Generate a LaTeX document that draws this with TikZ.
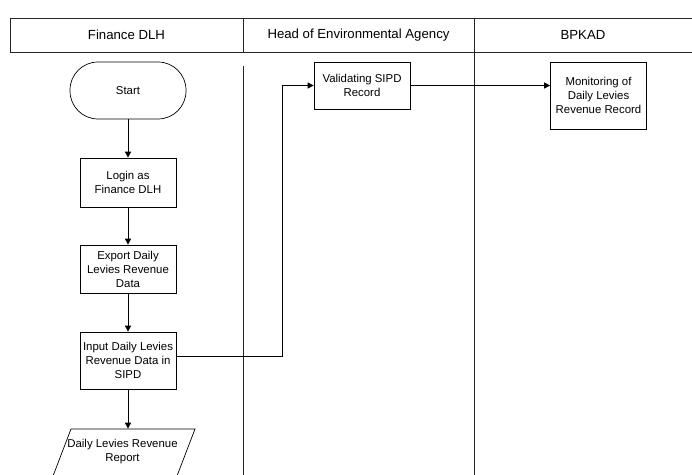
\documentclass[tikz,border=0pt]{standalone}
\usepackage{fontspec}
\setmainfont{Liberation Sans}
\usetikzlibrary{arrows.meta}
\begin{document}
\begin{tikzpicture}[x=1pt,y=-1pt,
  line width=0.7pt,
  box/.style={draw, align=center, font=\fontsize{11.4}{14}\selectfont, inner sep=1pt},
  lanehead/.style={font=\fontsize{13.2}{15}\selectfont},
  flow/.style={draw, -{Triangle[length=6pt,width=6pt]}},
  lane/.style={draw, line width=0.7pt, black!85}]
\useasboundingbox (0,0) rectangle (692,474);
\fill[white] (0,0) rectangle (692,474);
% header
\draw[lane] (10,18) rectangle (694,52);
\draw[lane] (243,18) -- (243,52);
\draw[lane] (474,18) -- (474,52);
\node[lanehead] (h1) at (126.5,35) {Finance DLH};
\node[lanehead] (h2) at (358.5,35) {Head of Environmental Agency};
\node[lanehead] (h3) at (583,35) {BPKAD};
% lane lines
\draw[lane] (243,66) -- (243,476);
\draw[lane] (474,52) -- (474,476);
% nodes
\node[box, minimum width=116pt, minimum height=57pt, rounded corners=28pt] (start) at (128,90.5) {Start};
\node[box, minimum width=96pt, minimum height=49pt] (login) at (128,182.5) {Login as\\Finance DLH};
\node[box, minimum width=96pt, minimum height=48pt] (export) at (128,269) {Export Daily\\Levies Revenue\\Data};
\node[box, minimum width=96pt, minimum height=57pt] (input) at (128,360.5) {Input Daily Levies\\Revenue Data in\\SIPD};
\node[box, minimum width=96pt, minimum height=47pt] (valid) at (362,85.5) {Validating SIPD\\Record};
\node[box, minimum width=96pt, minimum height=67pt] (monit) at (598.5,95.5) {Monitoring of\\Daily Levies\\Revenue Record};
% report (parallelogram)
\node[align=center, font=\fontsize{11.4}{14}\selectfont, inner sep=0pt, minimum width=110pt, minimum height=46pt] (report) at (122.5,452) {Daily Levies Revenue\\Report};
\draw (71,429) -- (195,429) -- (177,476) -- (53,476) -- cycle;
% connectors
\draw[flow] (start) -- (login);
\draw[flow] (login) -- (export);
\draw[flow] (export) -- (input);
\draw[flow] (input.south) -- (input.south |- report.north);
\coordinate (bend) at (282,0);
\draw[flow] (input.east |- 0,356) -- (bend |- 0,356) -- (bend |- valid.west) -- (valid.west);
\draw[flow] (valid.east) -- (valid.east -| monit.west);
\end{tikzpicture}
\end{document}
